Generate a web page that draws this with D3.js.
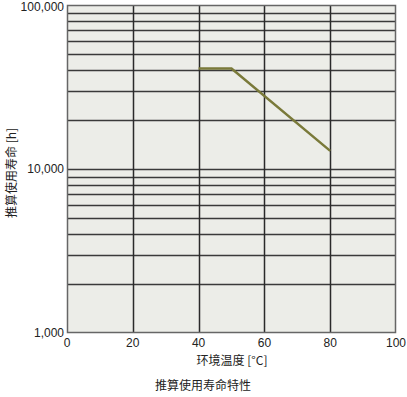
<!DOCTYPE html>
<html><head><meta charset="utf-8">
<script src="https://cdn.jsdelivr.net/npm/d3@7"></script>
<style>
body{margin:0;background:#fff;}
text{font-family:"Liberation Sans",Arial,sans-serif;fill:#222;}
</style></head>
<body><svg id="c" width="407" height="397"></svg>
<script>
const temps = [40, 50, 80];
const life = [41000, 41000, 12900];
const xTicks = [0, 20, 40, 60, 80, 100];
const yLabelTicks = [1000, 10000, 100000];
const yGrid = [2000,3000,4000,5000,6000,7000,8000,9000,10000,20000,30000,40000,50000,60000,70000,80000,90000];
const xLabel = "环境温度 [°C]";
const yLabel = "推算使用寿命 [h]";
const title = "推算使用寿命特性";

const svg = d3.select("#c");
const L=67, R=396, T=5, B=333;
const x = d3.scaleLinear().domain([0,100]).range([L,R]);
const y = d3.scaleLog().domain([1000,100000]).range([B,T]);

svg.append("rect").attr("x",L).attr("y",T).attr("width",R-L).attr("height",B-T).attr("fill","#ecede8");
const g = svg.append("g");
g.selectAll(".hg").data(yGrid).join("line")
  .attr("x1",L).attr("x2",R).attr("y1",d=>Math.round(y(d))+0.5).attr("y2",d=>Math.round(y(d))+0.5)
  .attr("stroke","#3a3a3a").attr("stroke-width",1.5);
g.selectAll(".vg").data(xTicks.slice(1,-1)).join("line")
  .attr("y1",T).attr("y2",B).attr("x1",d=>Math.round(x(d))+0.5).attr("x2",d=>Math.round(x(d))+0.5)
  .attr("stroke","#2a2a2a").attr("stroke-width",1.5);
svg.append("rect").attr("x",L+0.5).attr("y",T+0.5).attr("width",R-L-1).attr("height",B-T-1)
  .attr("fill","none").attr("stroke","#666").attr("stroke-width",1.5);

const line = d3.line().x((d,i)=>x(temps[i])).y(d=>y(d));
svg.append("path").datum(life).attr("d",line).attr("fill","none")
  .attr("stroke","#7a7a3a").attr("stroke-width",2.5);

svg.selectAll(".yl").data(yLabelTicks).join("text")
  .attr("x",L-3).attr("y",d=>Math.max(y(d),6.5)).attr("dy","0.35em").attr("text-anchor","end")
  .attr("font-size",12).text(d3.format(","));
svg.selectAll(".xl").data(xTicks).join("text")
  .attr("x",d=>x(d)).attr("y",B+14).attr("text-anchor","middle")
  .attr("font-size",12).text(d=>d);
svg.append("text").attr("x",232).attr("y",365).attr("text-anchor","middle")
  .attr("font-size",12).style("font-family","'Noto Sans CJK SC',sans-serif").text(xLabel);
svg.append("text").attr("transform","translate(16,173) rotate(-90)").attr("text-anchor","middle")
  .attr("font-size",12).style("font-family","'Noto Sans CJK SC',sans-serif").text(yLabel);
svg.append("text").attr("x",203).attr("y",390).attr("text-anchor","middle")
  .attr("font-size",12).style("font-family","'Noto Sans CJK SC',sans-serif").text(title);
</script></body></html>
